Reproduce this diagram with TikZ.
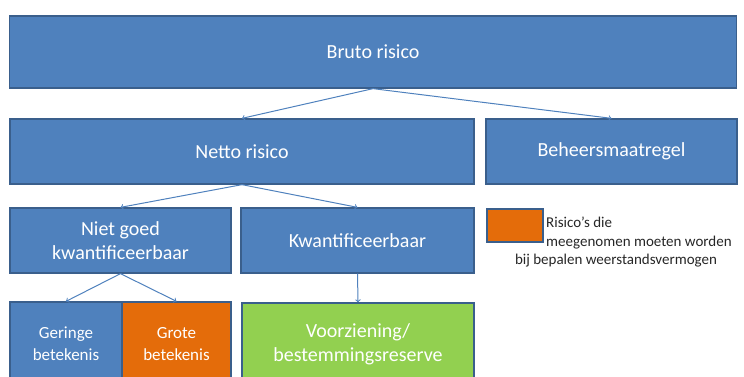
\documentclass[tikz,border=0pt]{standalone}
\usepackage{fontspec}
\setmainfont{Carlito}
\definecolor{blauw}{HTML}{4F81BD}
\definecolor{rand}{HTML}{3A5F8C}
\definecolor{oranje}{HTML}{E46C0A}
\definecolor{groen}{HTML}{92D050}
\newcommand{\groot}{\fontsize{20}{24}\selectfont}
\newcommand{\klein}{\fontsize{17}{22}\selectfont}
\tikzset{
 blok/.style={draw=rand,line width=1.3pt,fill=blauw,text=white,align=center,inner sep=0pt,font=\groot},
 pijl/.style={->,blauw,line width=1pt},
 legtekst/.style={text=black!85,align=left,inner sep=0pt,font=\fontsize{15}{20}\selectfont},
}
\begin{document}
\begin{tikzpicture}[x=1pt,y=-1pt]
 \useasboundingbox (0,0) rectangle (744,377);
 \clip (0,0) rectangle (744,377); %onderkant afgesneden
 \node[blok,minimum width=727pt,minimum height=72pt] (bruto) at (373,52) {Bruto risico};
 \node[blok,minimum width=464pt,minimum height=65pt] (netto) at (242,151.5) {Netto risico};
 \node[blok,minimum width=251pt,minimum height=65pt] (beheers) at (611.5,151.5) {Beheersmaatregel};
 \node[blok,minimum width=221pt,minimum height=65pt] (nietgoed) at (120.5,240.5) {Niet goed\\kwantificeerbaar};
 \node[blok,minimum width=233pt,minimum height=65pt] (kwant) at (357.5,240.5) {Kwantificeerbaar};
 \node[blok,minimum width=112pt,minimum height=84pt,font=\klein] (geringe) at (66,344) {Geringe\\betekenis};
 \node[blok,fill=oranje,minimum width=109pt,minimum height=84pt,font=\klein] (grote) at (176.5,344) {Grote\\betekenis};
 \node[blok,fill=groen,minimum width=232pt,minimum height=82pt] (voorz) at (358,344) {Voorziening/\\bestemmingsreserve};
 \node[blok,fill=oranje,minimum width=56pt,minimum height=33pt] (legenda) at (515,225.5) {}; %legenda
 \node[legtekst,anchor=west] (legtxt) at (546,233) {Risico’s die\\meegenomen moeten worden};
 \node[legtekst] (legtxt2) at (616,261) {bij bepalen weerstandsvermogen};
 \draw[pijl] (bruto.south)--(netto.north);
 \draw[pijl] (bruto.south)--(beheers.north);
 \draw[pijl] (netto.south)--(nietgoed.north);
 \draw[pijl] (netto.south)--(kwant.north);
 \draw[pijl] (nietgoed.south)--(geringe.north);
 \draw[pijl] (nietgoed.south)--(grote.north);
 \draw[pijl] (kwant.south)--(voorz.north);
\end{tikzpicture}
\end{document}
